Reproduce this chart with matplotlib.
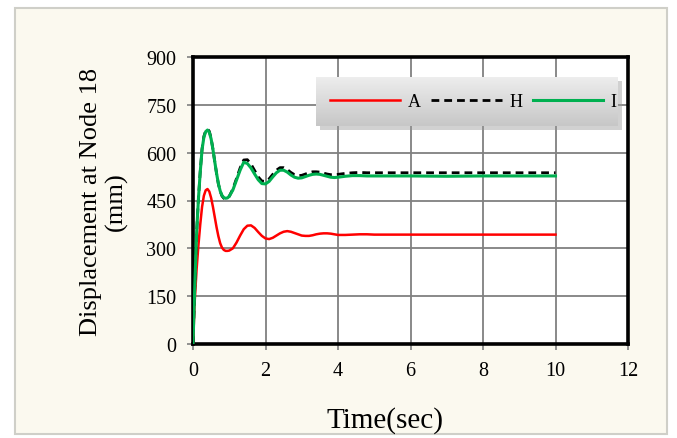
import numpy as np
import matplotlib
matplotlib.use("Agg")
import matplotlib.pyplot as plt
from matplotlib.patches import Rectangle

plt.rcParams['font.family'] = ['Liberation Serif', 'DejaVu Serif']

# ---------------- data ----------------
time = [0, 0.05, 0.10, 0.15, 0.20, 0.25, 0.30, 0.35, 0.40, 0.45, 0.50,
        0.55, 0.60, 0.65, 0.70, 0.75, 0.80, 0.85, 0.90, 0.95, 1.00,
        1.1, 1.2, 1.3, 1.4, 1.5, 1.6, 1.7, 1.8, 1.9, 2.0,
        2.1, 2.2, 2.3, 2.4, 2.5, 2.6, 2.7, 2.8, 2.9, 3.0,
        3.1, 3.2, 3.3, 3.4, 3.5, 3.6, 3.7, 3.8, 3.9, 4.0,
        4.2, 4.4, 4.6, 4.8, 5.0, 6, 7, 8, 9, 10]

disp_A = [0, 140, 235, 310, 375, 430, 465, 482, 486, 478, 458,
          430, 398, 366, 338, 316, 302, 295, 292, 292, 293,
          300, 318, 340, 360, 371, 372, 364, 351, 339, 331,
          329, 333, 340, 347, 352, 354, 352, 348, 344, 340,
          339, 339, 341, 344, 346, 347, 347, 346, 344, 342,
          342, 343, 344, 344, 343, 343, 343, 343, 343, 343]

disp_H = [0, 185, 350, 456, 542, 612, 651, 669, 674, 667, 645,
          611, 572, 535, 502, 479, 464, 457, 455, 457, 463,
          486, 519, 552, 577, 578, 564, 544, 524, 511, 510,
          518, 532, 545, 553, 553, 547, 538, 531, 528, 529,
          533, 537, 540, 540, 539, 536, 533, 531, 531, 532,
          535, 537, 538, 537, 537, 537, 537, 537, 537, 537]

disp_I = [0, 185, 350, 455, 540, 610, 648, 666, 671, 664, 643,
          610, 572, 535, 503, 480, 466, 459, 457, 458, 463,
          483, 514, 545, 570, 566, 552, 533, 515, 503, 502,
          510, 524, 537, 545, 545, 539, 530, 523, 520, 521,
          525, 529, 532, 533, 532, 529, 526, 523, 522, 523,
          526, 528, 528, 527, 527, 527, 526, 527, 527, 527]

series_names = ['A', 'H', 'I']
x_ticks = [0, 2, 4, 6, 8, 10, 12]
y_ticks = [0, 150, 300, 450, 600, 750, 900]

# ---------------- figure ----------------
W, H = 677, 439
fig = plt.figure(figsize=(W / 100, H / 100), dpi=100)
fig.patch.set_facecolor('white')

# picture frame
fig.patches.append(Rectangle((15 / W, 4 / H), 652 / W, 426 / H,
                             transform=fig.transFigure, facecolor='#fbf9ef',
                             edgecolor='#cfcfc8', linewidth=1.5, zorder=-10))

ax = fig.add_axes([193 / W, 1 - 345 / H, 435 / W, 287 / H])
ax.set_facecolor('white')

ax.plot(time, disp_A, color='#ff0000', lw=1.8, label=series_names[0], zorder=3)
ax.plot(time, disp_H, color='black', lw=2.0, dashes=(2.8, 1.8),
        label=series_names[1], zorder=3)
ax.plot(time, disp_I, color='#00b050', lw=2.2, label=series_names[2], zorder=4)

ax.set_xlim(0, 12)
ax.set_ylim(0, 900)
ax.set_xticks(x_ticks)
ax.set_yticks(y_ticks)
ax.grid(True, color='#808080', lw=1.3)
ax.set_axisbelow(True)
for s in ax.spines.values():
    s.set_color('black')
    s.set_linewidth(2.6)
ax.tick_params(direction='out', length=4, width=1.2, color='#808080',
               labelsize=14.5, pad=8)

ax.set_ylabel('Displacement at Node 18\n(mm)', fontsize=19, va='center',
              ha='center', linespacing=1.2)
ax.yaxis.set_label_coords((104 - 193) / 435, 0.5)
ax.set_xlabel('Time(sec)', fontsize=21, va='center')
ax.xaxis.set_label_coords((385 - 193) / 435, (345 - 421) / 287)

# legend box with gradient and shadow
lx0, ly0, lx1, ly1 = 316, 78, 618, 127
fig.patches.append(Rectangle(((lx0 + 4) / W, 1 - (ly1 + 4) / H),
                             (lx1 - lx0) / W, (ly1 - ly0) / H,
                             transform=fig.transFigure, facecolor='#9a9a9a',
                             alpha=0.45, edgecolor='none', zorder=1))
lax = fig.add_axes([lx0 / W, 1 - ly1 / H, (lx1 - lx0) / W, (ly1 - ly0) / H],
                   zorder=2)
grad = np.linspace(0, 1, 64).reshape(-1, 1)
c_top = np.array([0.93, 0.93, 0.93])
c_bot = np.array([0.78, 0.78, 0.78])
img = c_top + (c_bot - c_top) * grad[:, :, None] * np.ones((1, 1, 3))
lax.imshow(img, aspect='auto', extent=[0, 1, 0, 1], origin='upper')
lax.set_xlim(0, 1)
lax.set_ylim(0, 1)
lax.axis('off')
handles, labels = ax.get_legend_handles_labels()
lax.legend(handles, labels, ncol=3, loc='center left',
           bbox_to_anchor=((330 - lx0) / (lx1 - lx0), 0.5), frameon=False,
           fontsize=13, handlelength=3.9, handletextpad=0.4,
           columnspacing=0.6, borderpad=0, borderaxespad=0)

fig.savefig('out.png', dpi=100, facecolor=fig.get_facecolor())
